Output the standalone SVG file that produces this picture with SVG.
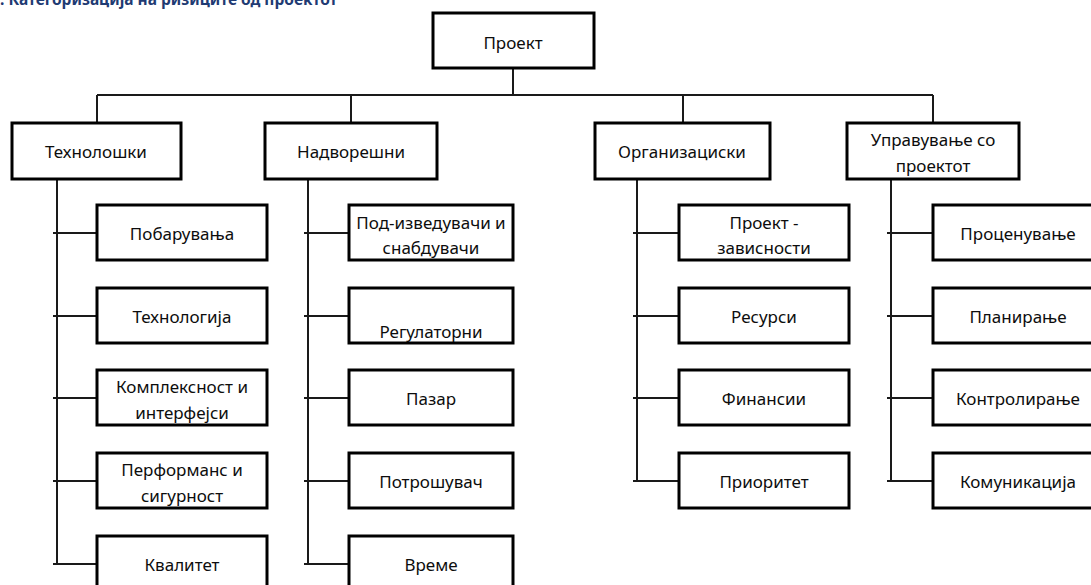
<svg xmlns="http://www.w3.org/2000/svg" width="1091" height="585" viewBox="0 0 1091 585">
<style>
.box{fill:#fff;stroke:#000;stroke-width:3}
.c{stroke:#1a1a1a;stroke-width:2;fill:none}
.t{font-family:"Noto Sans","Open Sans",sans-serif;font-size:17px;fill:#0d0d0d;text-anchor:middle;dominant-baseline:central}
.title{font-family:"Noto Sans","Open Sans",sans-serif;font-size:15.5px;font-weight:bold;fill:#1f3b73}
</style>
<rect width="1091" height="585" fill="#fff"/>
<text class="title" x="0" y="5">. Категоризација на ризиците од проектот</text>
<g id="connectors" class="c">
<path d="M513 68V95M97 95H933M97 95V123M351 95V123M683 95V123M933 95V123"/>
<path d="M57 179V564M53 233H97M53 316H97M53 398H97M53 481H97M53 564H97"/>
<path d="M308 179V564M304 233H349M304 316H349M304 398H349M304 481H349M304 564H349"/>
<path d="M637 179V481M633 233H679M633 316H679M633 398H679M633 481H679"/>
<path d="M891 179V481M887 233H933M887 316H933M887 398H933M887 481H933"/>
</g>
<g id="n-proekt"><rect class="box" x="433" y="13" width="161" height="55"/><text class="t" x="513" y="42">Проект</text></g>
<g id="n-tech"><rect class="box" x="12" y="123" width="169" height="56"/><text class="t" x="96" y="151">Технолошки</text></g>
<g id="n-nadv"><rect class="box" x="265" y="123" width="172" height="56"/><text class="t" x="351" y="151">Надворешни</text></g>
<g id="n-org"><rect class="box" x="595" y="123" width="175" height="56"/><text class="t" x="682" y="151">Организациски</text></g>
<g id="n-upr"><rect class="box" x="847" y="123" width="172" height="56"/><text class="t" x="933" y="139">Управување со</text><text class="t" x="933" y="165">проектот</text></g>

<g id="n-pobaruvanja"><rect class="box" x="97" y="205" width="170" height="55"/><text class="t" x="182" y="233">Побарувања</text></g>
<g id="n-tehnologija"><rect class="box" x="97" y="288" width="170" height="55"/><text class="t" x="182" y="316">Технологија</text></g>
<g id="n-kompleksnost"><rect class="box" x="97" y="370" width="170" height="55"/><text class="t" x="182" y="386">Комплексност и</text><text class="t" x="182" y="412">интерфејси</text></g>
<g id="n-performans"><rect class="box" x="97" y="453" width="170" height="55"/><text class="t" x="182" y="469">Перформанс и</text><text class="t" x="182" y="495">сигурност</text></g>
<g id="n-kvalitet"><rect class="box" x="97" y="536" width="170" height="60"/><text class="t" x="182" y="564">Квалитет</text></g>

<g id="n-podizveduvaci"><rect class="box" x="349" y="205" width="164" height="55"/><text class="t" x="431" y="222">Под-изведувачи и</text><text class="t" x="431" y="247">снабдувачи</text></g>
<g id="n-regulatorni"><rect class="box" x="349" y="288" width="164" height="55"/><text class="t" x="431" y="331">Регулаторни</text></g>
<g id="n-pazar"><rect class="box" x="349" y="370" width="164" height="55"/><text class="t" x="431" y="398">Пазар</text></g>
<g id="n-potrosuvac"><rect class="box" x="349" y="453" width="164" height="55"/><text class="t" x="431" y="481">Потрошувач</text></g>
<g id="n-vreme"><rect class="box" x="349" y="536" width="164" height="60"/><text class="t" x="431" y="564">Време</text></g>

<g id="n-proekt-zav"><rect class="box" x="679" y="205" width="170" height="55"/><text class="t" x="764" y="222">Проект -</text><text class="t" x="764" y="247">зависности</text></g>
<g id="n-resursi"><rect class="box" x="679" y="288" width="170" height="55"/><text class="t" x="764" y="316">Ресурси</text></g>
<g id="n-finansii"><rect class="box" x="679" y="370" width="170" height="55"/><text class="t" x="764" y="398">Финансии</text></g>
<g id="n-prioritet"><rect class="box" x="679" y="453" width="170" height="55"/><text class="t" x="764" y="481">Приоритет</text></g>

<g id="n-procenuvanje"><rect class="box" x="933" y="205" width="170" height="55"/><text class="t" x="1018" y="233">Проценување</text></g>
<g id="n-planiranje"><rect class="box" x="933" y="288" width="170" height="55"/><text class="t" x="1018" y="316">Планирање</text></g>
<g id="n-kontroliranje"><rect class="box" x="933" y="370" width="170" height="55"/><text class="t" x="1018" y="398">Контролирање</text></g>
<g id="n-komunikacija"><rect class="box" x="933" y="453" width="170" height="55"/><text class="t" x="1018" y="481">Комуникација</text></g>
</svg>
